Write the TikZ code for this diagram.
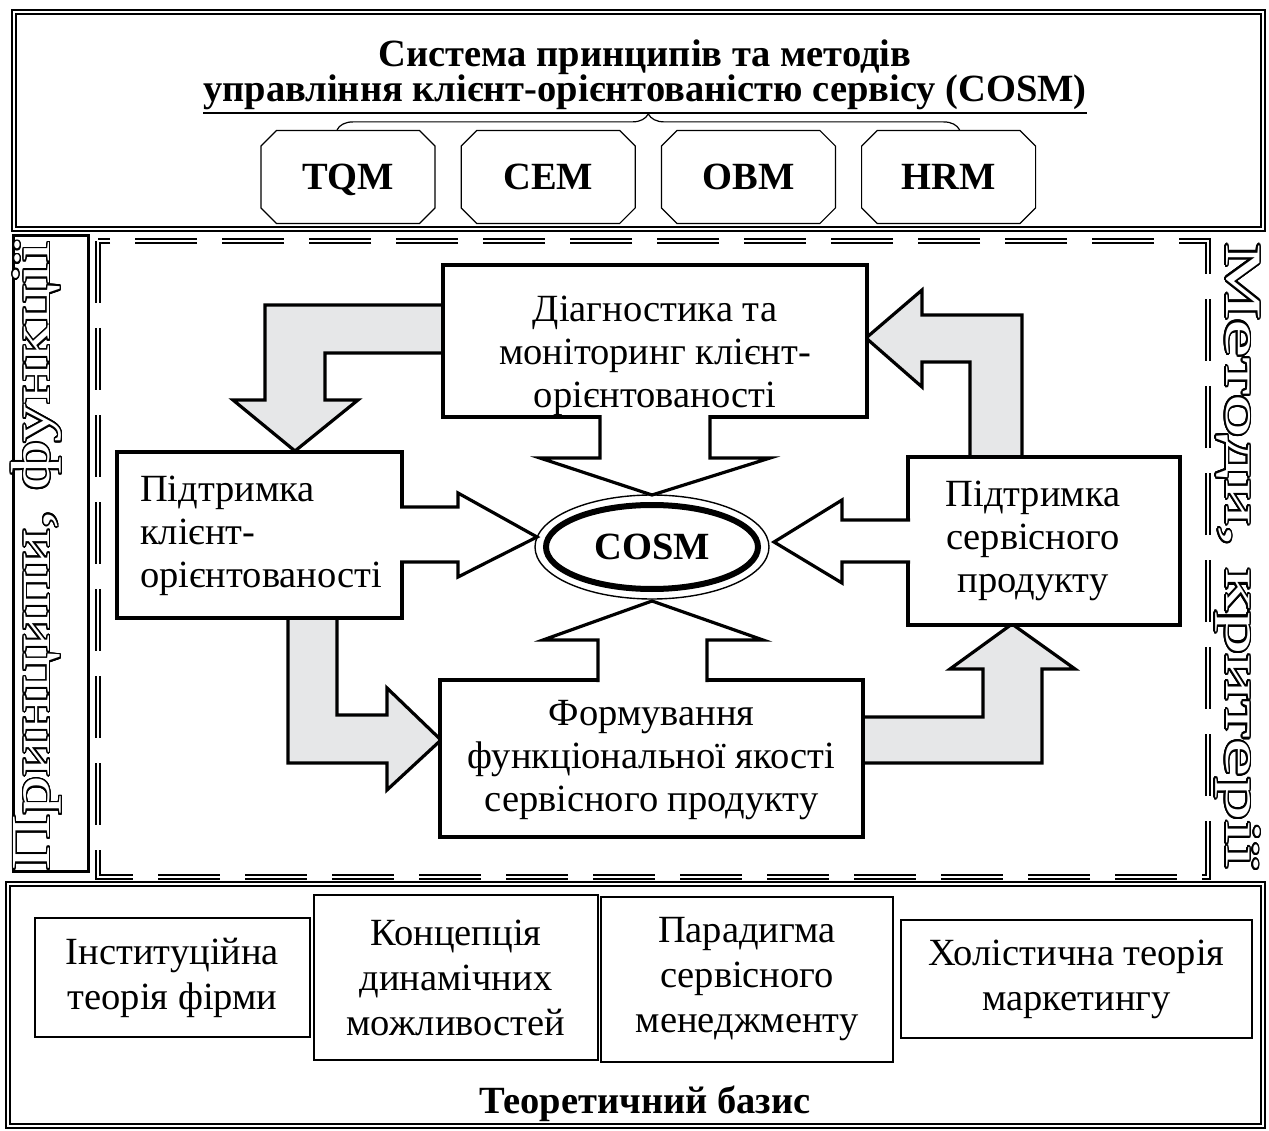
\documentclass[tikz,border=0pt]{standalone}
\usepackage{fontspec}
\setmainfont{Liberation Serif}
\usepackage{graphicx}
\usepackage[copies]{contour}
\usetikzlibrary{positioning,shapes.geometric,shapes.misc,decorations.pathreplacing}
\definecolor{arrowgray}{RGB}{230,231,232}
\contourlength{1.3pt}
\contournumber{24}
\newcommand{\plainsize}{\fontsize{38.5}{43}\selectfont}
\newcommand{\boldsize}{\bfseries\fontsize{38.5}{40}\selectfont}
\newcommand{\hollowtext}[1]{\contour{black}{\textcolor{white}{#1}}}

\tikzset{
  dblframe/.style={draw, double, line width=1.8pt, double distance=2.4pt},
  dashframe/.style={draw, double, line width=1.5pt, double distance=2.4pt, dash pattern=on 62pt off 25pt},
  cbox/.style={draw, line width=3.2pt, fill=white, inner sep=0pt},
  basebox/.style={draw, line width=1.4pt, align=center, font=\fontsize{38.5}{45}\selectfont, inner sep=0pt},
  octbox/.style={draw, chamfered rectangle, chamfered rectangle xsep=26pt, line width=1.2pt, font=\boldsize, inner sep=0pt, text height=25pt, text depth=0pt, minimum width=174pt, minimum height=93pt},
  txtnode/.style={font=\plainsize, align=center, inner sep=0pt},
  hollowarrow/.style={line width=3.2pt, fill=white, line join=miter},
  blockarrow/.style={line width=3.2pt, fill=arrowgray, line join=miter},
}

\begin{document}
\begin{tikzpicture}[x=1pt, y=-1pt, node distance=25pt]
\fill[white] (0,0) rectangle (1269,1131);
\useasboundingbox (0,0) rectangle (1269,1131);

% upper block
\draw[dblframe] (14,12) rectangle (1263,229);
\node[font=\boldsize, anchor=base, inner sep=0pt] (title1) at (645,67) {Система принципів та методів};
\node[font=\boldsize, anchor=base, inner sep=0pt] (title2) at (645,102) {управління клієнт-орієнтованістю сервісу (COSM)};
\draw[line width=2.8pt] ([yshift=-11pt]title2.base west) -- ([yshift=-11pt]title2.base east);
\node[octbox] (tqm) at (348,177) {TQM};
\node[octbox, right=of tqm] (cem) {CEM};
\node[octbox, right=of cem] (obm) {OBM};
\node[octbox, right=of obm] (hrm) {HRM};
\draw[line width=1.2pt, decorate, decoration={brace, amplitude=16pt}] ([xshift=-11pt]tqm.north) -- ([xshift=11pt]hrm.north);

% side strips
\node[draw, line width=3pt, minimum width=75pt, minimum height=635pt, inner sep=0pt] (leftstrip) at (50.5,553.5) {};
\node[rotate=90, inner sep=0pt, font=\fontsize{55}{55}\selectfont] (princ) at (37,556) {\scalebox{1.4}[1]{\hollowtext{Принципи, функції}}};
\node[rotate=-90, inner sep=0pt, font=\fontsize{51}{51}\selectfont] (meth) at (1237,556) {\scalebox{1.7}[1]{\hollowtext{Методи, критерії}}};
\draw[dashframe] (98,241) rectangle (1208,877);

% grey arrows between the stages
\filldraw[blockarrow] (450,305) -- (265,305) -- (265,400) -- (233,400) -- (295,451) -- (358,400) -- (325,400) -- (325,353) -- (450,353) -- cycle;
\filldraw[blockarrow] (288,612) -- (288,763) -- (387,763) -- (387,790) -- (441,740) -- (387,688) -- (387,715) -- (337,715) -- (337,612) -- cycle;
\filldraw[blockarrow] (857,717) -- (983,717) -- (983,669) -- (950,669) -- (1012,624) -- (1075,669) -- (1042,669) -- (1042,763) -- (857,763) -- cycle;
\filldraw[blockarrow] (970,463) -- (970,362) -- (922,362) -- (922,387) -- (866,338) -- (922,290) -- (922,315) -- (1022,315) -- (1022,463) -- cycle;

% stages
\node[cbox, minimum width=424pt, minimum height=152pt] (diag) at (655,341) {};
\node[cbox, minimum width=285pt, minimum height=166pt] (supcl) at (259.5,535) {};
\node[cbox, minimum width=272pt, minimum height=168pt] (supsrv) at (1044,541) {};
\node[cbox, minimum width=423pt, minimum height=157pt] (form) at (651.5,758.5) {};

% arrows into COSM
\filldraw[hollowarrow] (600,415) -- (600,458) -- (540,458) -- (652,495) -- (770,458) -- (710,458) -- (710,415);
\filldraw[hollowarrow] (598,682) -- (598,640) -- (543,640) -- (652,601) -- (763,640) -- (707,640) -- (707,682);
\filldraw[hollowarrow] (400,507) -- (458,507) -- (458,493) -- (537,537) -- (458,577) -- (458,562) -- (400,562);
\filldraw[hollowarrow] (910,520) -- (842,520) -- (842,500) -- (774,542) -- (842,583) -- (842,562) -- (910,562);

\node[ellipse, draw, line width=6pt, minimum width=212pt, minimum height=84pt, font=\boldsize] (cosm) at (652,547) {COSM};
\draw[line width=1.4pt] (cosm.center) ellipse [x radius=117pt, y radius=52pt];

\node[txtnode] (diagtxt) at (655,356) {Діагностика та\\моніторинг клієнт-\\орієнтованості};
\node[txtnode, align=left, anchor=west] (supcltxt) at (140,536) {Підтримка\\клієнт-\\орієнтованості};
\node[txtnode] (supsrvtxt) at (1033,541) {Підтримка\\сервісного\\продукту};
\node[txtnode] (formtxt) at (651.5,760) {Формування\\функціональної якості\\сервісного продукту};

% lower block
\draw[dblframe] (8,884) rectangle (1263,1126);
\node[basebox, minimum width=275pt, minimum height=119pt] (inst) at (172.5,977.5) {Інституційна\\теорія фірми};
\node[basebox, minimum width=284pt, minimum height=165pt] (conc) at (456,977.5) {Концепція\\динамічних\\можливостей};
\node[basebox, minimum width=292pt, minimum height=165pt] (parad) at (747,979.5) {Парадигма\\сервісного\\менеджменту};
\node[basebox, minimum width=351pt, minimum height=118pt] (holist) at (1076.5,979) {Холістична теорія\\маркетингу};
\node[font=\boldsize, anchor=base, inner sep=0pt] (basis) at (645,1113) {Теоретичний базис};
\end{tikzpicture}
\end{document}
